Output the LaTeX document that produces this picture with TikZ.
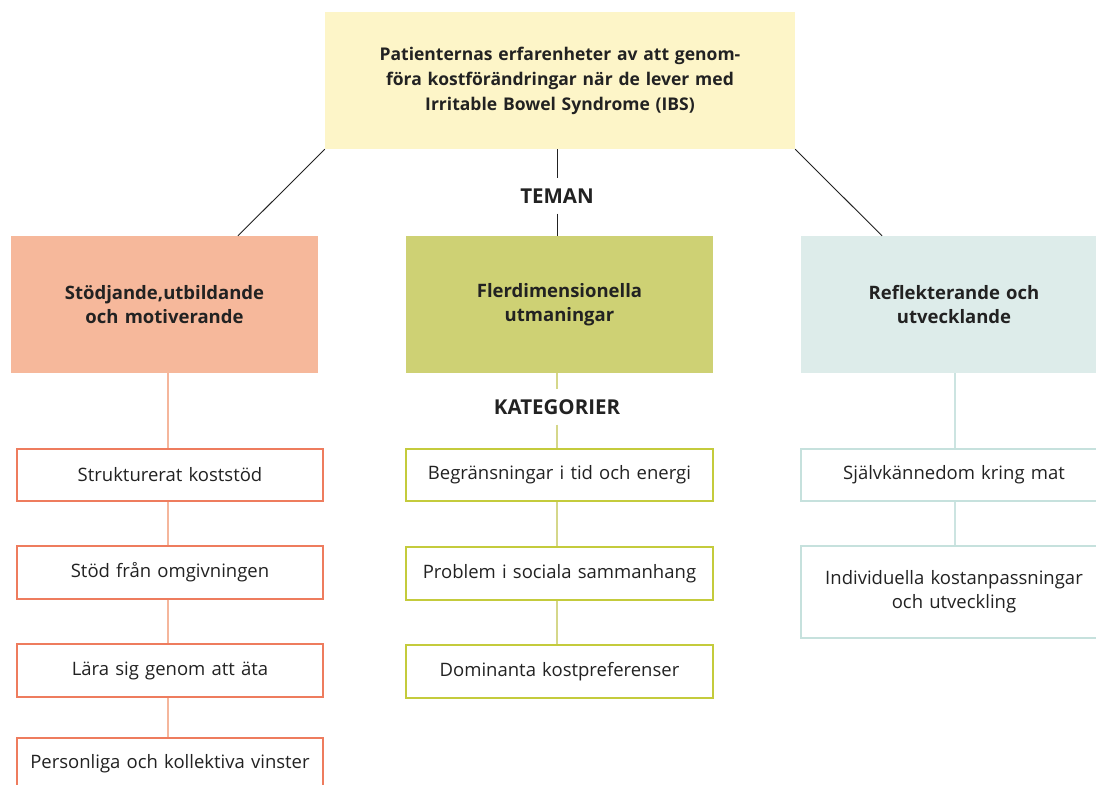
\documentclass[tikz,border=0pt]{standalone}
\usepackage{fontspec}
\setmainfont{Open Sans}
\definecolor{topfill}{HTML}{FDF5C8}
\definecolor{salmon}{HTML}{F6B89B}
\definecolor{olive}{HTML}{CED174}
\definecolor{paleteal}{HTML}{DDECEA}
\definecolor{lborder}{HTML}{EE7C5E}
\definecolor{mborder}{HTML}{C4CB3C}
\definecolor{rborder}{HTML}{C6E1DD}
\definecolor{lline}{HTML}{F5B69C}
\definecolor{mline}{HTML}{D5D78A}
\definecolor{rline}{HTML}{CCE4E1}
\definecolor{ink}{HTML}{222222}
\tikzset{
  topbox/.style={fill=topfill, draw=none, minimum width=470pt, minimum height=137pt, inner sep=0pt,
    text width=450pt, align=center, font=\fontsize{17.5}{25}\selectfont\bfseries, text=ink},
  themebox/.style={draw=none, minimum height=137pt, inner sep=0pt,
    text width=295pt, align=center, font=\fontsize{18.5}{23.5}\selectfont\bfseries, text=ink},
  catbox/.style={fill=white, line width=1.2pt, inner sep=0pt, text width=300pt, align=center,
    font=\fontsize{18.5}{24}\selectfont, text=ink},
  lbl/.style={inner sep=0pt, minimum height=35pt, font=\fontsize{20.5}{22}\selectfont\bfseries, text=ink},
  blackline/.style={draw=ink, line width=0.9pt},
}
\begin{document}
\begin{tikzpicture}[x=1pt,y=-1pt]
\useasboundingbox[fill=white] (0,0) rectangle (1096,785);
% top box
\node[topbox] (top) at (560,80.5) {Patienternas erfarenheter av att genom-\\föra kostförändringar när de lever med\\Irritable Bowel Syndrome (IBS)};
% themes
\node[themebox, fill=salmon, minimum width=307pt] (t1) at (164.5,304.5) {Stödjande,utbildande\\och motiverande};
\node[themebox, fill=olive, minimum width=307pt] (t2) at (559.5,304.5) {Flerdimensionella\\utmaningar\\[3pt]};
\node[themebox, fill=paleteal, minimum width=306pt] (t3) at (954,304.5) {Reflekterande och\\utvecklande};
% labels
\node[lbl] (teman) at (557,196) {TEMAN};
\node[lbl] (kat) at (557,407) {KATEGORIER};
% connectors top -> themes
\draw[blackline] (top.south west) -- ([xshift=73.5pt]t1.north);
\draw[blackline] (top.south east) -- ([xshift=-72pt]t3.north);
\draw[blackline] (top.south -| teman) -- (teman.north);
\draw[blackline] (teman.south) -- (t2.north -| teman);
% left categories
\node[catbox, draw=lborder, minimum width=306pt, minimum height=52pt] (l1) at (170,475) {Strukturerat koststöd};
\node[catbox, draw=lborder, minimum width=306pt, minimum height=53pt] (l2) at (170,572.5) {Stöd från omgivningen};
\node[catbox, draw=lborder, minimum width=306pt, minimum height=53pt] (l3) at (170,670.5) {Lära sig genom att äta};
\node[catbox, draw=lborder, minimum width=306pt, minimum height=52pt] (l4) at (170,764) {Personliga och kollektiva vinster};
% middle categories
\node[catbox, draw=mborder, minimum width=307pt, minimum height=52pt] (m1) at (559.5,475) {Begränsningar i tid och energi};
\node[catbox, draw=mborder, minimum width=307pt, minimum height=53pt] (m2) at (559.5,573.5) {Problem i sociala sammanhang};
\node[catbox, draw=mborder, minimum width=307pt, minimum height=53pt] (m3) at (559.5,671.5) {Dominanta kostpreferenser};
% right categories
\node[catbox, draw=rborder, minimum width=306pt, minimum height=52pt] (r1) at (954,475) {Självkännedom kring mat};
\node[catbox, draw=rborder, minimum width=306pt, minimum height=92pt] (r2) at (954,592) {Individuella kostanpassningar\\och utveckling};
% vertical connectors
\begin{scope}[line width=2pt]
\draw[lline] (t1.south -| 168,0) -- (l1.north -| 168,0);
\draw[lline] (l1.south -| 168,0) -- (l2.north -| 168,0);
\draw[lline] (l2.south -| 168,0) -- (l3.north -| 168,0);
\draw[lline] (l3.south -| 168,0) -- (l4.north -| 168,0);
\draw[mline] (t2.south -| kat) -- (kat.north);
\draw[mline] (kat.south) -- (m1.north -| kat);
\draw[mline] (m1.south -| kat) -- (m2.north -| kat);
\draw[mline] (m2.south -| kat) -- (m3.north -| kat);
\draw[rline] (t3.south -| 955,0) -- (r1.north -| 955,0);
\draw[rline] (r1.south -| 955,0) -- (r2.north -| 955,0);
\end{scope}
\end{tikzpicture}
\end{document}
